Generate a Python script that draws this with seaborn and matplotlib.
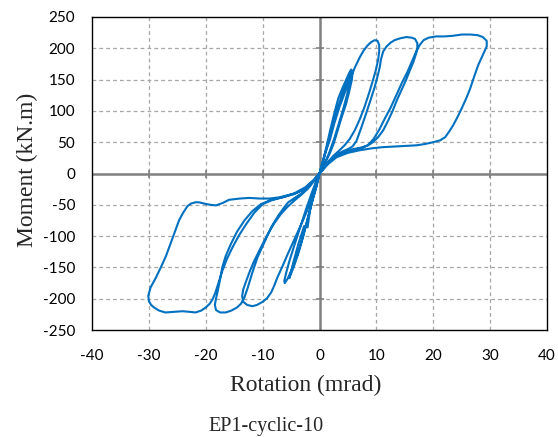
import numpy as np
import pandas as pd
import matplotlib
matplotlib.use("Agg")
import matplotlib.pyplot as plt
import seaborn as sns

# Moment-rotation record, split into successive cycles (rotation in mrad, moment in kN.m)
cyc1_pos_rot = [0, 0.6, 1.2, 1.9, 2.6, 3.3, 4.1, 4.8, 5.3, 5.6, 5.8, 5.7, 5.2, 4.7, 3.9, 3.2, 2.5, 1.8, 1.0, 0.3, 0]
cyc1_pos_mom = [0, 20, 42, 70, 96, 120, 138, 152, 162, 166, 160, 150, 130, 112, 90, 69, 48, 32, 17, 5, 0]

cyc1_neg_rot = [0, -0.5, -1.2, -2.0, -2.8, -3.6, -4.4, -5.0, -5.3, -5.1, -4.6, -3.7, -2.7, -2.1, -1.6, -0.7, 0]
cyc1_neg_mom = [0, -20, -42, -70, -98, -124, -146, -160, -167, -160, -142, -112, -84, -86, -55, -22, 0]

cyc2_pos_rot = [0, 0.7, 1.4, 2.2, 3.0, 3.8, 4.6, 5.2, 5.5, 5.6, 5.4, 4.9, 4.2, 3.4, 2.6, 1.7, 0.8, 0]
cyc2_pos_mom = [0, 22, 45, 72, 98, 122, 142, 157, 164, 162, 150, 128, 104, 80, 56, 33, 14, 0]

cyc2_neg_rot = [0, -0.6, -1.4, -2.2, -3.0, -3.9, -4.8, -5.6, -6.1, -6.2, -5.9, -5.3, -4.4, -3.4, -2.4, -1.4, -0.5, 0]
cyc2_neg_mom = [0, -22, -48, -76, -104, -130, -152, -168, -175, -172, -160, -140, -114, -86, -58, -32, -10, 0]

cyc3_pos_rot = [0, 0.6, 1.2, 1.8, 2.6, 3.5, 4.4, 5.3, 6.2, 7.1, 7.8, 8.5, 9.1, 9.7, 10.2, 10.5, 10.5,
                10.3, 9.9, 9.4, 8.7, 7.9, 7.1, 6.2, 5.3, 4.4, 3.4, 2.4, 1.4, 0.5, 0]
cyc3_pos_mom = [0, 20, 38, 53, 80, 106, 128, 149, 169, 186, 197, 205, 210, 213, 212, 205, 195,
                181, 165, 149, 128, 106, 87, 69, 55, 45, 36, 28, 17, 6, 0]

cyc3_neg_rot = [0, -0.6, -1.5, -2.3, -3.2, -4.4, -5.6, -6.5, -7.4, -8.0, -8.5, -9.2, -10.0, -11.0, -11.8,
                -12.7, -13.4, -13.6, -13.4, -12.9, -12.2, -11.5, -10.3, -9.1, -8.0, -6.8, -5.6, -4.4,
                -3.2, -2.0, -1.0, 0]
cyc3_neg_mom = [0, -15, -43, -62, -81, -105, -129, -148, -166, -180, -190, -199, -205, -210, -212,
                -210, -205, -196, -185, -172, -155, -140, -118, -97, -80, -65, -53, -43,
                -34, -24, -12, 0]

cyc4_pos_rot = [0, 0.8, 1.7, 2.9, 4.0, 5.0, 5.8, 6.5, 7.3, 8.2, 9.0, 9.7, 10.2, 10.6, 10.8, 11.2, 11.8,
                12.5, 13.2, 14.2, 15.3, 16.2, 16.8, 17.2, 17.2, 17.0, 16.5, 15.9, 15.2, 14.4, 13.6,
                12.9, 12.1, 11.2, 10.3, 9.4, 8.5, 7.6, 6.0, 4.5, 3.0, 1.8, 0.8, 0]
cyc4_pos_mom = [0, 10, 20, 29, 35, 39, 43, 52, 72, 96, 118, 138, 155, 170, 182, 195, 203,
                209, 213, 216, 218, 217, 215, 208, 200, 192, 178, 165, 149, 133, 117,
                101, 85, 69, 58, 50, 45, 42, 39, 35, 29, 21, 10, 0]

cyc4_neg_rot = [0, -1.0, -2.2, -3.2, -4.5, -5.5, -6.2, -7.3, -8.5, -9.7, -10.9, -11.8, -12.6, -13.2,
                -13.8, -14.5, -15.5, -16.5, -17.5, -18.2, -18.4, -18.2, -17.9, -17.5, -17.1, -16.5,
                -15.6, -14.5, -13.2, -11.8, -10.3, -8.5, -6.5, -4.5, -2.5, -1.0, 0]
cyc4_neg_mom = [0, -12, -24, -32, -40, -46, -54, -68, -86, -110, -134, -158, -182, -198,
                -208, -214, -219, -222, -222, -218, -210, -200, -188, -170, -150, -132,
                -113, -93, -75, -60, -49, -42, -38, -33, -24, -11, 0]

cyc5_pos_rot = [0, 1.0, 2.0, 3.0, 4.5, 6.0, 7.5, 8.5, 9.5, 10.5, 11.5, 12.5, 13.5, 14.5, 15.5, 16.3,
                17.0, 17.6, 18.3, 19.2, 20.5, 22.0, 23.5, 25.0, 26.5, 27.8, 28.7, 29.4, 29.4, 29.1,
                28.5, 27.9, 27.2, 26.5, 25.8, 25.0, 24.2, 23.5, 22.8, 22.1, 21.2, 20.0, 18.5, 17.0,
                15.0, 13.0, 11.0, 9.0, 7.0, 5.0, 3.0, 1.5, 0]
cyc5_pos_mom = [0, 11, 21, 28, 34, 38, 41, 45, 55, 70, 88, 105, 125, 145, 163, 180,
                195, 205, 213, 217, 219, 219, 220, 222, 222, 221, 218, 212, 203, 197,
                185, 173, 155, 136, 120, 104, 89, 77, 67, 58, 53, 50, 47, 45,
                44, 43, 42, 40, 37, 33, 26, 15, 0]

cyc5_neg_rot = [0, -1.0, -2.5, -4.0, -5.3, -7.0, -8.8, -10.5, -12.4, -14.0, -15.9, -17.0, -18.2, -19.2,
                -20.3, -21.2, -21.8, -22.6, -23.2, -24.0, -24.7, -25.5, -26.2, -27.0, -27.9, -28.8,
                -29.7, -30.1, -30.0, -29.6, -29.1, -28.2, -27.1, -25.5, -24.1, -22.8, -21.8, -20.8,
                -20.0, -19.3, -18.8, -18.3, -17.7, -17.1, -16.3, -15.3, -14.1, -12.9, -11.5, -10.0,
                -8.5, -6.5, -4.5, -2.5, -1.0, 0]
cyc5_neg_mom = [0, -12, -24, -31, -34, -38, -40, -40, -39, -40, -42, -47, -51, -50,
                -48, -46, -46, -48, -52, -63, -75, -95, -113, -132, -150, -167,
                -182, -195, -204, -210, -214, -219, -222, -221, -220, -221, -222, -219,
                -214, -208, -201, -190, -173, -156, -137, -118, -98, -81, -63, -49,
                -43, -38, -32, -22, -10, 0]

rotation = np.concatenate([cyc1_pos_rot, cyc1_neg_rot, cyc2_pos_rot, cyc2_neg_rot,
                           cyc3_pos_rot, cyc3_neg_rot, cyc4_pos_rot, cyc4_neg_rot,
                           cyc5_pos_rot, cyc5_neg_rot])
moment = np.concatenate([cyc1_pos_mom, cyc1_neg_mom, cyc2_pos_mom, cyc2_neg_mom,
                         cyc3_pos_mom, cyc3_neg_mom, cyc4_pos_mom, cyc4_neg_mom,
                         cyc5_pos_mom, cyc5_neg_mom])
df = pd.DataFrame({"rotation": rotation, "moment": moment})

x_ticks = [-40, -30, -20, -10, 0, 10, 20, 30, 40]
y_ticks = [-250, -200, -150, -100, -50, 0, 50, 100, 150, 200, 250]

sns.set_style("white")
plt.rcParams["font.family"] = ["Lato", "DejaVu Sans"]

fig = plt.figure(figsize=(5.58, 4.37), dpi=100)
ax = fig.add_axes([92 / 558, 1 - 330 / 437, (547 - 92) / 558, (330 - 17) / 437])

# dashed grid
for xv in x_ticks:
    if xv not in (0, -40, 40):
        ax.axvline(xv, color="#A6A6A6", lw=0.9, ls=(0, (3, 2.5)), zorder=1)
for yv in y_ticks:
    if yv not in (0, -250, 250):
        ax.axhline(yv, color="#A6A6A6", lw=0.9, ls=(0, (3, 2.5)), zorder=1)

# zero axes with cross ticks
ax.axhline(0, color="#808080", lw=1.8, zorder=2)
ax.axvline(0, color="#808080", lw=1.8, zorder=2)
ax.plot(x_ticks[1:-1], [0] * (len(x_ticks) - 2), ls="none", marker="|", ms=6, mew=1.2,
        color="#808080", zorder=2)
ax.plot([0] * (len(y_ticks) - 2), y_ticks[1:-1], ls="none", marker="_", ms=6, mew=1.2,
        color="#808080", zorder=2)

sns.lineplot(data=df, x="rotation", y="moment", sort=False, estimator=None,
             color="#0070C0", lw=1.5, ax=ax, zorder=3)

ax.set_xlim(-40, 40)
ax.set_ylim(-250, 250)
ax.set_xticks(x_ticks)
ax.set_yticks(y_ticks)
ax.set_xticklabels([str(v) for v in x_ticks])
ax.set_yticklabels([str(v) for v in y_ticks])
ax.tick_params(axis="both", length=0, labelsize=11, colors="black")
ax.tick_params(axis="x", pad=14)
ax.tick_params(axis="y", pad=12)
ax.set_xlabel("")
ax.set_ylabel("")
for sp in ax.spines.values():
    sp.set_color("#000000")
    sp.set_linewidth(1.0)

serif = ["Liberation Serif", "DejaVu Serif"]
fig.text(306 / 558, 1 - 385 / 437, "Rotation (mrad)", ha="center", va="center",
         fontsize=17, family=serif)
fig.text(27 / 558, 1 - 170 / 437, "Moment (kN.m)", ha="center", va="center",
         rotation=90, fontsize=17, family=serif)
fig.text(266 / 558, 1 - 426 / 437, "EP1-cyclic-10", ha="center", va="center",
         fontsize=14.5, family=serif)

fig.savefig("out.png", dpi=100)
